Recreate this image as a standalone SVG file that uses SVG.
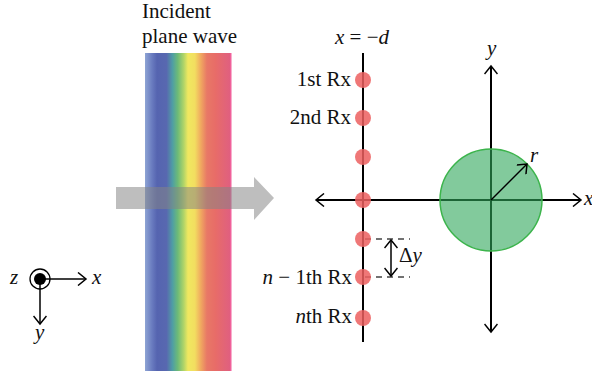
<svg xmlns="http://www.w3.org/2000/svg" width="592" height="377" viewBox="0 0 592 377">
<style>
text{font-family:"Liberation Serif","Times New Roman",serif;font-size:21px;fill:#111}
.it{font-style:italic}
.ax{stroke:#000;stroke-width:2;fill:none}
.thin{stroke:#000;stroke-width:1.5;fill:none}
.dot{fill:#ec5f5f;fill-opacity:0.85}
.dash{stroke:#444;stroke-width:1.4;stroke-dasharray:6 5;fill:none}
</style>
<defs>
<linearGradient id="rb" x1="145" y1="0" x2="231" y2="0" gradientUnits="userSpaceOnUse">
<stop offset="0" stop-color="#8ea4d4"/>
<stop offset="0.08" stop-color="#6a7cc0"/>
<stop offset="0.14" stop-color="#5564b0"/>
<stop offset="0.25" stop-color="#5868b0"/>
<stop offset="0.32" stop-color="#4f9ea4"/>
<stop offset="0.38" stop-color="#6cba78"/>
<stop offset="0.45" stop-color="#b0d468"/>
<stop offset="0.50" stop-color="#f0e860"/>
<stop offset="0.58" stop-color="#f2de60"/>
<stop offset="0.65" stop-color="#f0a860"/>
<stop offset="0.72" stop-color="#e87866"/>
<stop offset="0.82" stop-color="#e86c68"/>
<stop offset="0.93" stop-color="#e26478"/>
<stop offset="1" stop-color="#e05e80"/>
</linearGradient>
<marker id="ah" viewBox="-10 -7 12 14" refX="0" refY="0" markerWidth="12" markerHeight="14" markerUnits="userSpaceOnUse" orient="auto-start-reverse">
<path d="M-8,-6.5 L0,0 L-8,6.5" fill="none" stroke="#000" stroke-width="1.5"/>
</marker>
</defs>

<g id="wave">
<rect x="145" y="53" width="86" height="318" fill="url(#rb)"/>
<rect x="230" y="53" width="1.5" height="318" fill="#f0609a"/>
<path d="M116,187 H254 V177 L274,198 L254,220 V209 H116 Z" fill="#848484" fill-opacity="0.53"/>
<text x="142" y="18">Incident</text>
<text x="142" y="43">plane wave</text>
</g>

<g id="connectors">
<line class="ax" x1="363" y1="53" x2="363" y2="342"/>
<line class="ax" x1="316" y1="200" x2="581" y2="200" marker-start="url(#ah)" marker-end="url(#ah)"/>
<line class="ax" x1="491" y1="66" x2="491" y2="332" marker-start="url(#ah)" marker-end="url(#ah)"/>
<line class="dash" x1="365" y1="239" x2="410" y2="239"/>
<line class="dash" x1="365" y1="277" x2="410" y2="277"/>
<line class="thin" x1="391" y1="240" x2="391" y2="276" marker-start="url(#ah)" marker-end="url(#ah)"/>
</g>

<g id="circle">
<circle cx="491" cy="200" r="51" fill="#2fa65a" fill-opacity="0.6" stroke="#3cb44c" stroke-width="1.5"/>
<line class="thin" x1="491" y1="200" x2="527" y2="164" marker-end="url(#ah)"/>
<text class="it" x="530" y="162">r</text>
</g>

<g id="labels">
<text x="335" y="44"><tspan class="it">x</tspan> = −<tspan class="it">d</tspan></text>
<text x="487" y="55" class="it">y</text>
<text x="584" y="205" class="it">x</text>
<text x="399" y="262">Δ<tspan class="it">y</tspan></text>
<text x="351" y="86" text-anchor="end">1st Rx</text>
<text x="351" y="124" text-anchor="end">2nd Rx</text>
<text x="352" y="284" text-anchor="end"><tspan class="it">n</tspan> − 1th Rx</text>
<text x="352" y="323" text-anchor="end"><tspan class="it">n</tspan>th Rx</text>
</g>

<g id="receivers">
<circle class="dot" cx="363" cy="80" r="8"/>
<circle class="dot" cx="363" cy="118" r="8"/>
<circle class="dot" cx="363" cy="157" r="8"/>
<circle class="dot" cx="363" cy="200" r="8"/>
<circle class="dot" cx="363" cy="239" r="8"/>
<circle class="dot" cx="363" cy="277" r="8"/>
<circle class="dot" cx="363" cy="318" r="8"/>
</g>

<g id="axes-legend">
<circle cx="40" cy="279" r="10" fill="none" stroke="#000" stroke-width="1.3"/>
<circle cx="40" cy="279" r="6" fill="#000"/>
<line class="thin" x1="40" y1="279" x2="86" y2="279" marker-end="url(#ah)"/>
<line class="thin" x1="40" y1="279" x2="40" y2="324" marker-end="url(#ah)"/>
<text class="it" x="10" y="284">z</text>
<text class="it" x="92" y="284">x</text>
<text class="it" x="35" y="339">y</text>
</g>
</svg>
